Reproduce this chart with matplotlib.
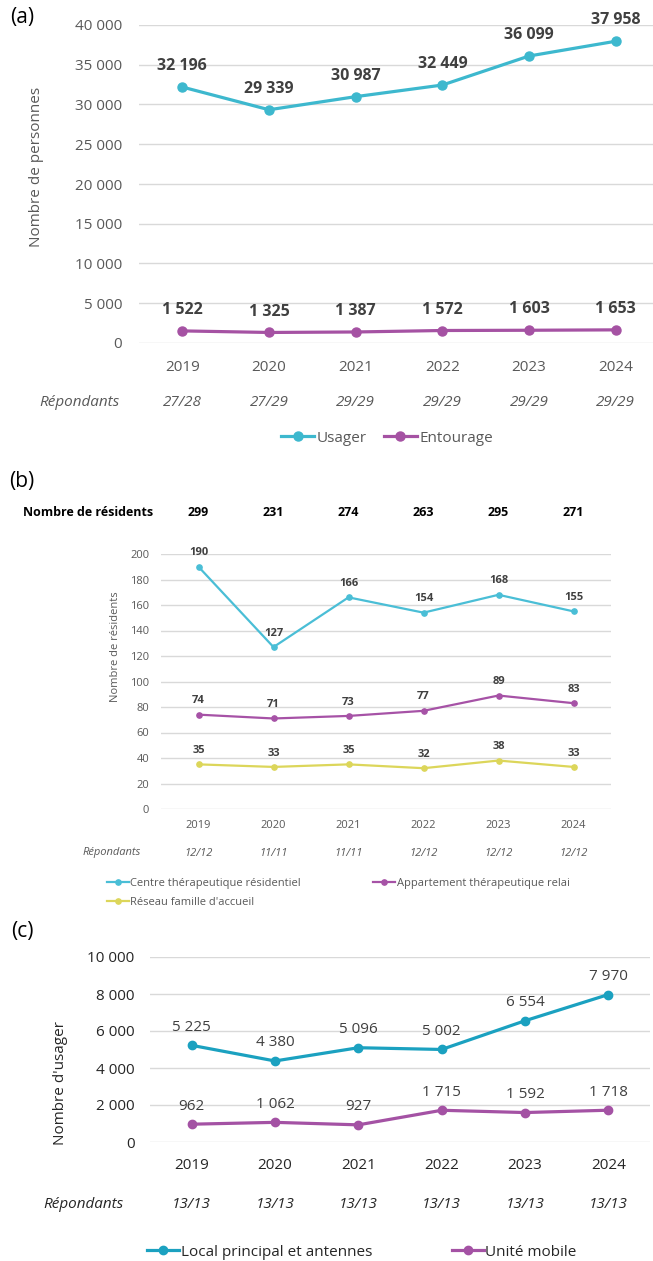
import matplotlib
matplotlib.use("Agg")
import matplotlib.pyplot as plt
import matplotlib.transforms as mtransforms

plt.rcParams['font.family'] = ['Open Sans', 'DejaVu Sans']

W, H = 653, 1261

years = ['2019', '2020', '2021', '2022', '2023', '2024']

# (a) personnes
usager = [32196, 29339, 30987, 32449, 36099, 37958]
entourage = [1522, 1325, 1387, 1572, 1603, 1653]
repondants_a = ['27/28', '27/29', '29/29', '29/29', '29/29', '29/29']

# (b) résidents
centre = [190, 127, 166, 154, 168, 155]
appartement = [74, 71, 73, 77, 89, 83]
reseau = [35, 33, 35, 32, 38, 33]
repondants_b = ['12/12', '11/11', '11/11', '12/12', '12/12', '12/12']

# (c) usagers
local = [5225, 4380, 5096, 5002, 6554, 7970]
mobile = [962, 1062, 927, 1715, 1592, 1718]
repondants_c = ['13/13', '13/13', '13/13', '13/13', '13/13', '13/13']

GRID = '#d9d9d9'


def fmt(v):
    return f"{v:,}".replace(",", " ")


def px_axes(fig, x0, y0, x1, y1):
    return fig.add_axes([x0 / W, 1 - y1 / H, (x1 - x0) / W, (y1 - y0) / H])


def base_style(ax, ymax, step, tick_size, tick_color, ypad, xpad):
    ax.set_ylim(0, ymax)
    ax.set_yticks(range(0, ymax + 1, step))
    ax.set_yticklabels([fmt(v) for v in range(0, ymax + 1, step)])
    ax.set_xticks(range(len(years)))
    ax.set_xticklabels(years)
    ax.tick_params(length=0, labelsize=tick_size, labelcolor=tick_color)
    ax.tick_params(axis='y', pad=ypad)
    ax.tick_params(axis='x', pad=xpad)
    for s in ax.spines.values():
        s.set_visible(False)
    ax.grid(axis='y', color=GRID, linewidth=1)
    ax.set_axisbelow(True)


def series(ax, vals, color, lw, ms, label, off, size, weight, tcolor):
    line, = ax.plot(range(len(vals)), vals, color=color, lw=lw, marker='o',
                    ms=ms, label=label, clip_on=False, zorder=3)
    for i, v in enumerate(vals):
        ax.annotate(fmt(v), (i, v), xytext=(0, off), textcoords='offset points',
                    ha='center', va='center', fontsize=size, fontweight=weight,
                    color=tcolor)
    return line


def respondents(fig, ax, labels, ypix, xlab, size, color):
    tr = mtransforms.blended_transform_factory(ax.transData, fig.transFigure)
    for i, r in enumerate(labels):
        ax.text(i, 1 - ypix / H, r, transform=tr, ha='center', va='center',
                fontsize=size, style='italic', color=color)
    fig.text(xlab / W, 1 - ypix / H, 'Répondants', ha='center', va='center',
             fontsize=size, style='italic', color=color)


def ylabel(fig, text, x, y, size, color):
    fig.text(x / W, 1 - y / H, text, rotation=90, ha='center', va='center',
             fontsize=size, color=color)


fig = plt.figure(figsize=(W / 100, H / 100), dpi=100)

# ---- (a)
ax = px_axes(fig, 139, 25, 653, 343)
base_style(ax, 40000, 5000, 11, '#595959', 12, 12)
ax.set_xlim(-0.5, 5.43)
la1 = series(ax, usager, '#3db8ce', 2.3, 6.5, 'Usager', 15, 11.5, 'bold', '#404040')
la2 = series(ax, entourage, '#a552a3', 2.3, 6.5, 'Entourage', 15, 11.5, 'bold', '#404040')
ylabel(fig, 'Nombre de personnes', 37, 167, 11, '#595959')
respondents(fig, ax, repondants_a, 403, 79, 11, '#595959')
fig.legend(handles=[la1, la2], loc='center', bbox_to_anchor=(387 / W, 1 - 438 / H),
           ncol=2, frameon=False, fontsize=11, handlelength=2.2,
           handletextpad=0.15, columnspacing=1.1, labelcolor='#595959')
fig.text(22 / W, 1 - 17 / H, '(a)', fontsize=15, ha='center', va='center')

# ---- (b)
ax = px_axes(fig, 161, 554, 611, 809)
base_style(ax, 200, 20, 8, '#595959', 8.5, 8)
ax.set_xlim(-0.5, 5.5)
lb1 = series(ax, centre, '#4abed6', 1.6, 3.8, 'Centre thérapeutique résidentiel',
             10, 8, 'bold', '#404040')
lb2 = series(ax, appartement, '#a652a6', 1.6, 3.8, 'Appartement thérapeutique relai',
             10, 8, 'bold', '#404040')
lb3 = series(ax, reseau, '#dcd65a', 1.6, 3.8, "Réseau famille d'accueil",
             10, 8, 'bold', '#404040')
ylabel(fig, 'Nombre de résidents', 115, 647, 8, '#595959')
respondents(fig, ax, repondants_b, 853, 112, 8, '#595959')
fig.text(88 / W, 1 - 513 / H, 'Nombre de résidents', fontsize=9, fontweight='bold',
         ha='center', va='center')
tr = mtransforms.blended_transform_factory(ax.transData, fig.transFigure)
for i in range(len(years)):
    tot = centre[i] + appartement[i] + reseau[i]
    ax.text(i, 1 - 513 / H, str(tot), transform=tr, fontsize=9, fontweight='bold',
            ha='center', va='center')
fig.legend(handles=[lb1, lb3, lb2], loc='upper left',
           bbox_to_anchor=(107 / W, 1 - 878 / H), ncol=2, frameon=False,
           fontsize=8, handlelength=2.0, handletextpad=0.1, columnspacing=6.5,
           labelspacing=0.75, borderpad=0, borderaxespad=0, labelcolor='#595959')
fig.text(22 / W, 1 - 482 / H, '(b)', fontsize=15, ha='center', va='center')

# ---- (c)
ax = px_axes(fig, 150, 957, 650, 1142)
base_style(ax, 10000, 2000, 11, '#262626', 11, 11.5)
ax.set_xlim(-0.5, 5.5)
lc1 = series(ax, local, '#1ba1c0', 2.3, 6, 'Local principal et antennes',
             13, 11, 'normal', '#404040')
lc2 = series(ax, mobile, '#a452a4', 2.3, 6, 'Unité mobile',
             13, 11, 'normal', '#404040')
ylabel(fig, "Nombre d'usager", 60, 1083, 11, '#262626')
respondents(fig, ax, repondants_c, 1204, 83, 11, '#262626')
fig.legend(handles=[lc1, lc2], loc='center', bbox_to_anchor=(362 / W, 1 - 1252 / H),
           ncol=2, frameon=False, fontsize=11, handlelength=2.1,
           handletextpad=0.1, columnspacing=5.2, labelcolor='#262626')
fig.text(22 / W, 1 - 932 / H, '(c)', fontsize=15, ha='center', va='center')

fig.savefig('out.png', dpi=100)
